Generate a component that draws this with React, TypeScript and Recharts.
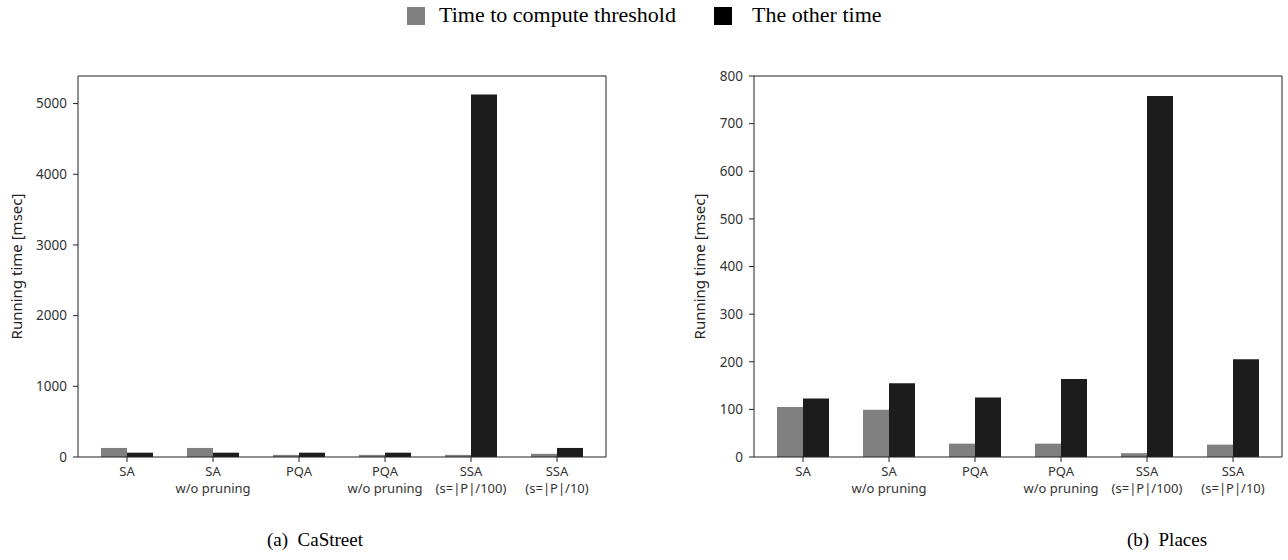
import React from 'react'
import { BarChart, Bar, XAxis, YAxis } from 'recharts'

// categories (second line shown under the first)
const categories = ['SA', 'SA\nw/o pruning', 'PQA', 'PQA\nw/o pruning', 'SSA\n(s=|P|/100)', 'SSA\n(s=|P|/10)']

// (a) CaStreet
const caThreshold = [128, 128, 30, 30, 30, 45]
const caOther = [61, 61, 61, 61, 5130, 128]
const caTicks = [0, 1000, 2000, 3000, 4000, 5000]

// (b) Places
const plThreshold = [105, 99, 28, 28, 8, 26]
const plOther = [123, 155, 125, 164, 758, 205]
const plTicks = [0, 100, 200, 300, 400, 500, 600, 700, 800]

const GRAY = '#808080'
const BLACK = '#1c1c1c'
const AXIS = '#222'
const SANS = '"Noto Sans", sans-serif'
const SERIF = '"Liberation Serif", "Times New Roman", serif'

const CatTick = (props: any) => {
  const { x, y, payload } = props
  const lines = String(payload.value).split('\n')
  return (
    <g transform={`translate(${x},${y})`}>
      {lines.map((l, i) => (
        <text key={i} x={0} y={i * 17} dy={12} textAnchor="middle" fill="#333" fontSize={13} fontFamily={SANS}>
          {l}
        </text>
      ))}
    </g>
  )
}

function Panel({ threshold, other, ticks, domain, left, width, marginLeft, labelOffset }: any) {
  const data = categories.map((c, i) => ({ name: c, threshold: threshold[i], other: other[i] }))
  return (
    <div style={{ position: 'absolute', left, top: 0 }}>
      <BarChart
        width={width}
        height={500}
        data={data}
        barSize={26}
        barGap={0}
        margin={{ top: 75, right: width - marginLeft - 40 - 528 - 1, bottom: 3, left: marginLeft }}
      >
        <XAxis
          dataKey="name"
          interval={0}
          tick={<CatTick />}
          tickSize={5}
          height={40}
          padding={{ left: 6, right: 6 }}
          stroke={AXIS}
        />
        <XAxis xAxisId="top" orientation="top" dataKey="name" tick={false} tickLine={false} height={1} stroke={AXIS} />
        <YAxis
          domain={domain}
          ticks={ticks}
          allowDataOverflow
          width={40}
          tickSize={5}
          tickMargin={6}
          stroke={AXIS}
          tick={{ fill: '#333', fontSize: 13.5, fontFamily: SANS }}
          label={{
            value: 'Running time [msec]',
            angle: -90,
            position: 'left',
            offset: labelOffset,
            style: { fill: '#222', fontSize: 15, fontFamily: SANS, textAnchor: 'middle' },
          }}
        />
        <YAxis yAxisId="right" orientation="right" domain={domain} tick={false} tickLine={false} width={1} stroke={AXIS} />
        <Bar dataKey="threshold" fill={GRAY} isAnimationActive={false} />
        <Bar dataKey="other" fill={BLACK} isAnimationActive={false} />
      </BarChart>
    </div>
  )
}

export default function App() {
  return (
    <div style={{ position: 'absolute', left: 0, top: 0, width: 1288, height: 560, background: '#fff' }}>
      <Panel threshold={caThreshold} other={caOther} ticks={caTicks} domain={[0, 5390]} left={0} width={620} marginLeft={38} labelOffset={21} />
      <Panel threshold={plThreshold} other={plOther} ticks={plTicks} domain={[0, 800]} left={640} width={648} marginLeft={74} labelOffset={14} />

      {/* legend */}
      <div style={{ position: 'absolute', left: 407, top: 7, width: 18, height: 18, background: GRAY }} />
      <div style={{ position: 'absolute', left: 439, top: 2, fontFamily: SERIF, fontSize: 22, lineHeight: '26px', color: '#000', whiteSpace: 'nowrap' }}>
        Time to compute threshold
      </div>
      <div style={{ position: 'absolute', left: 714, top: 7, width: 18, height: 18, background: '#000' }} />
      <div style={{ position: 'absolute', left: 752, top: 2, fontFamily: SERIF, fontSize: 22, lineHeight: '26px', color: '#000', whiteSpace: 'nowrap' }}>
        The other time
      </div>

      {/* captions */}
      <div style={{ position: 'absolute', left: 215, width: 200, top: 528, textAlign: 'center', fontFamily: SERIF, fontSize: 19, lineHeight: '24px' }}>
        (a)&nbsp; CaStreet
      </div>
      <div style={{ position: 'absolute', left: 1067, width: 200, top: 528, textAlign: 'center', fontFamily: SERIF, fontSize: 19, lineHeight: '24px' }}>
        (b)&nbsp; Places
      </div>
    </div>
  )
}
